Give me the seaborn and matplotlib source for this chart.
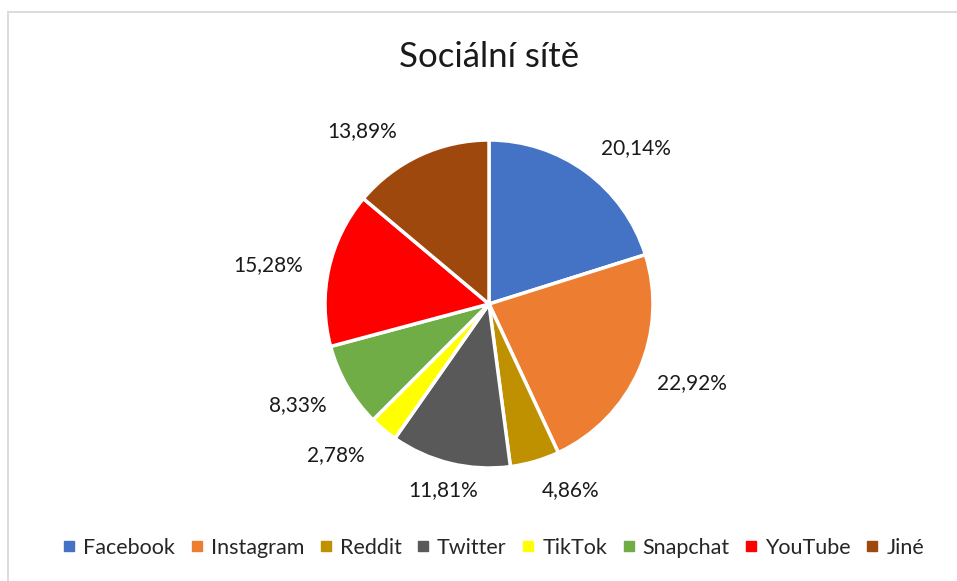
import matplotlib
matplotlib.use("Agg")
import matplotlib.pyplot as plt
import seaborn as sns
from matplotlib.lines import Line2D
from matplotlib.patches import Rectangle

categories = ["Facebook", "Instagram", "Reddit", "Twitter", "TikTok", "Snapchat", "YouTube", "Jiné"]
values = [20.14, 22.92, 4.86, 11.81, 2.78, 8.33, 15.28, 13.89]
labels = ["20,14%", "22,92%", "4,86%", "11,81%", "2,78%", "8,33%", "15,28%", "13,89%"]
colors = ["#4472C4", "#ED7D31", "#BF9000", "#595959", "#FFFF00", "#70AD47", "#FF0000", "#9E480E"]

sns.set_theme(style="white")
plt.rcParams['font.family'] = ['Lato', 'DejaVu Sans']

W, H = 957, 581
fig = plt.figure(figsize=(W / 100, H / 100), dpi=100)
fig.patch.set_facecolor("white")

# border
fig.patches.append(Rectangle((8 / W, -0.1), 1.2, 1 - 12 / H + 0.1, transform=fig.transFigure,
                             fill=False, edgecolor="#D9D9D9", linewidth=1.3))

R = 164
cx, cy = 489, 304
size = 3 * R
ax = fig.add_axes([(cx - size / 2) / W, (H - cy - size / 2) / H, size / W, size / H])

wedges, texts = ax.pie(values, labels=labels, colors=colors, startangle=90, counterclock=False,
                       labeldistance=1.3, radius=1.0,
                       wedgeprops=dict(edgecolor="white", linewidth=2.5),
                       textprops=dict(fontsize=15, color="#1a1a1a"))
ax.set_xlim(-1.5, 1.5)
ax.set_ylim(-1.5, 1.5)
ax.set_aspect("equal")
ax.axis("off")

# label placement (in units of the pie radius), as in the reference layout
label_pos = [(0.896, 0.951), (1.238, -0.482), (0.500, -1.134), (-0.280, -1.134),
             (-0.933, -0.921), (-1.165, -0.616), (-1.348, 0.238), (-0.774, 1.055)]
for t, p in zip(texts, label_pos):
    t.set_position(p)
    t.set_ha("center")
    t.set_va("center")
    t.set_clip_on(False)

fig.text(cx / W, 1 - 57 / H, "Sociální sítě", ha="center", va="center", fontsize=25, color="#1a1a1a")

handles = [Line2D([0], [0], marker="s", linestyle="none", markersize=6.5,
                  markerfacecolor=c, markeredgecolor=c) for c in colors]
fig.legend(handles, categories, loc="center", bbox_to_anchor=(494 / W, 1 - 548 / H), ncol=8,
           frameon=False, fontsize=15.5, handletextpad=0.4, columnspacing=0.75, handlelength=0.5)

fig.savefig("out.png", dpi=100, facecolor="white")
